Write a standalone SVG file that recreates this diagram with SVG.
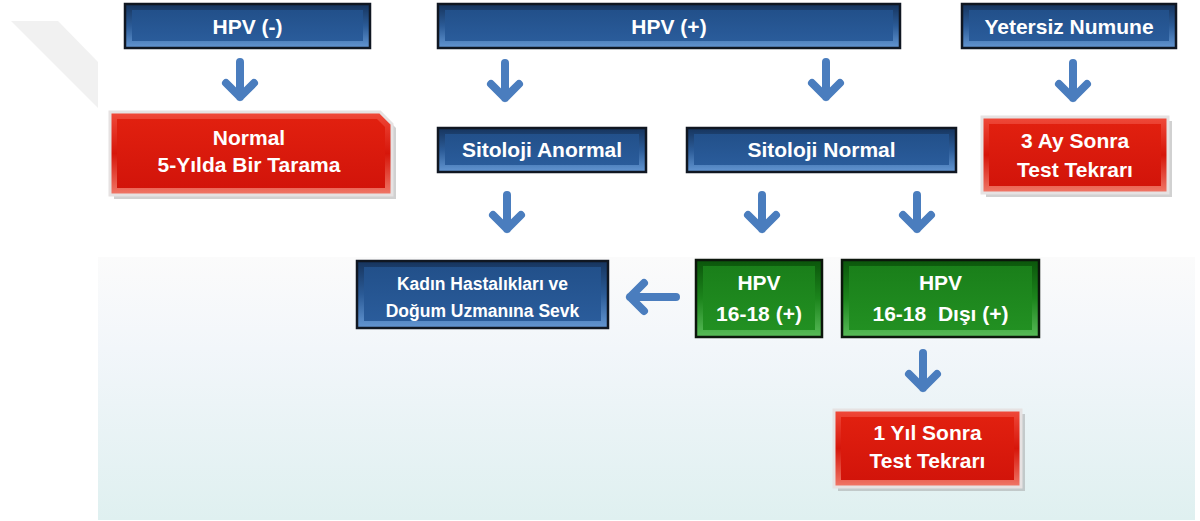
<svg xmlns="http://www.w3.org/2000/svg" width="1200" height="521" viewBox="0 0 1200 521">
<defs>
<linearGradient id="gPanel" x1="0" y1="0" x2="0" y2="1">
<stop offset="0" stop-color="#fbfbfb"/>
<stop offset="0.35" stop-color="#f2f6fa"/>
<stop offset="1" stop-color="#dff0f0"/>
</linearGradient>
<linearGradient id="gBlueBev" x1="0" y1="0" x2="0" y2="1">
<stop offset="0" stop-color="#16345d"/>
<stop offset="0.5" stop-color="#2b5b97"/>
<stop offset="1" stop-color="#6396d2"/>
</linearGradient>
<linearGradient id="gBlueFace" x1="0" y1="0" x2="0" y2="1">
<stop offset="0" stop-color="#22508a"/>
<stop offset="1" stop-color="#2a5c9b"/>
</linearGradient>
<linearGradient id="gGreenBev" x1="0" y1="0" x2="0" y2="1">
<stop offset="0" stop-color="#0b550b"/>
<stop offset="0.5" stop-color="#1c851c"/>
<stop offset="1" stop-color="#58bb58"/>
</linearGradient>
<linearGradient id="gGreenFace" x1="0" y1="0" x2="0" y2="1">
<stop offset="0" stop-color="#1a7f1a"/>
<stop offset="1" stop-color="#229022"/>
</linearGradient>
<linearGradient id="gRedBev" x1="0" y1="0" x2="0" y2="1">
<stop offset="0" stop-color="#f04a3a"/>
<stop offset="0.5" stop-color="#d6160a"/>
<stop offset="1" stop-color="#f07868"/>
</linearGradient>
<linearGradient id="gRedFace" x1="0" y1="0" x2="0" y2="1">
<stop offset="0" stop-color="#e1200f"/>
<stop offset="1" stop-color="#d2140a"/>
</linearGradient>
</defs>
<style>
.blueOut{fill:url(#gBlueBev);stroke:#101722;stroke-width:2.5}
.blueFace{fill:url(#gBlueFace)}
.greenOut{fill:url(#gGreenBev);stroke:#0c160c;stroke-width:2.5}
.greenFace{fill:url(#gGreenFace)}
.redOut{fill:url(#gRedBev);stroke:#e6e2e2;stroke-width:3}
.redFace{fill:url(#gRedFace)}
.shadow{fill:#9a9a9a;opacity:0.45}
.t{font-family:"Liberation Sans",Arial,sans-serif;font-weight:bold;fill:#ffffff;text-anchor:middle;font-size:21px}
.ts{font-size:17.5px}
.pre{white-space:pre}
.arr{fill:none;stroke:#4a7dbe;stroke-width:8;stroke-linecap:round;stroke-linejoin:round}
</style>
<rect x="0" y="0" width="1200" height="521" fill="#ffffff"/>
<polygon points="11,21 58,21 98,62 98,108" fill="#f1f1f1"/>
<rect x="98" y="257" width="1097" height="263" fill="url(#gPanel)"/>

<g id="connectors">
<path class="arr" d="M240,62 V97 M226,83 L240,97 L254,83"/>
<path class="arr" d="M505,63 V98 M491,84 L505,98 L519,84"/>
<path class="arr" d="M826,62 V97 M812,83 L826,97 L840,83"/>
<path class="arr" d="M1073,63 V98 M1059,84 L1073,98 L1087,84"/>
<path class="arr" d="M507,195 V229 M493,215 L507,229 L521,215"/>
<path class="arr" d="M762,195 V229 M748,215 L762,229 L776,215"/>
<path class="arr" d="M917,195 V229 M903,215 L917,229 L931,215"/>
<path class="arr" d="M923,353 V388 M909,374 L923,388 L937,374"/>
<path class="arr" d="M676,297 H630 M644,283 L630,297 L644,311"/>
</g>

<g id="n-hpv-neg">
<rect class="blueOut" x="125" y="4" width="245" height="44"/>
<rect class="blueFace" x="132" y="10" width="231" height="31"/>
<text class="t" x="247.5" y="34">HPV (-)</text>
</g>

<g id="n-hpv-pos">
<rect class="blueOut" x="438" y="4" width="462" height="44"/>
<rect class="blueFace" x="445" y="10" width="448" height="31"/>
<text class="t" x="669" y="34">HPV (+)</text>
</g>

<g id="n-yetersiz">
<rect class="blueOut" x="962" y="4" width="214" height="44"/>
<rect class="blueFace" x="969" y="10" width="200" height="31"/>
<text class="t" x="1069" y="34">Yetersiz Numune</text>
</g>

<g id="n-normal">
<polygon class="shadow" points="114,116 384,116 396,128 396,199 114,199"/>
<polygon class="redOut" points="110,112 380,112 392,124 392,195 110,195"/>
<polygon class="redFace" points="117,119 377,119 385,127 385,188 117,188"/>
<text class="t" x="249" y="145">Normal</text>
<text class="t" x="249" y="172">5-Yılda Bir Tarama</text>
</g>

<g id="n-sit-anormal">
<rect class="blueOut" x="438" y="128" width="208" height="44"/>
<rect class="blueFace" x="445" y="134" width="194" height="31"/>
<text class="t" x="542" y="157">Sitoloji Anormal</text>
</g>

<g id="n-sit-normal">
<rect class="blueOut" x="687" y="128" width="269" height="44"/>
<rect class="blueFace" x="694" y="134" width="255" height="31"/>
<text class="t" x="821.5" y="157">Sitoloji Normal</text>
</g>

<g id="n-3ay">
<rect class="shadow" x="986" y="121" width="186" height="76"/>
<rect class="redOut" x="982" y="117" width="186" height="76"/>
<rect class="redFace" x="989" y="124" width="172" height="62"/>
<text class="t" x="1075" y="148">3 Ay Sonra</text>
<text class="t" x="1075" y="177">Test Tekrarı</text>
</g>

<g id="n-kadin">
<rect class="blueOut" x="357" y="261" width="251" height="67"/>
<rect class="blueFace" x="364" y="267" width="237" height="54"/>
<text class="t ts" x="482.5" y="290">Kadın Hastalıkları ve</text>
<text class="t ts" x="482.5" y="317">Doğum Uzmanına Sevk</text>
</g>

<g id="n-hpv1618">
<rect class="greenOut" x="696" y="260" width="126" height="77"/>
<rect class="greenFace" x="703" y="266" width="112" height="64"/>
<text class="t" x="759" y="290">HPV</text>
<text class="t" x="759" y="321">16-18 (+)</text>
</g>

<g id="n-hpv1618-disi">
<rect class="greenOut" x="842" y="260" width="197" height="77"/>
<rect class="greenFace" x="849" y="266" width="183" height="64"/>
<text class="t" x="940.5" y="290">HPV</text>
<text class="t pre" x="940.5" y="321" xml:space="preserve">16-18  Dışı (+)</text>
</g>

<g id="n-1yil">
<rect class="shadow" x="838" y="414" width="187" height="77"/>
<rect class="redOut" x="834" y="410" width="187" height="77"/>
<rect class="redFace" x="841" y="417" width="173" height="63"/>
<text class="t" x="927.5" y="440">1 Yıl Sonra</text>
<text class="t" x="927.5" y="468">Test Tekrarı</text>
</g>
</svg>
